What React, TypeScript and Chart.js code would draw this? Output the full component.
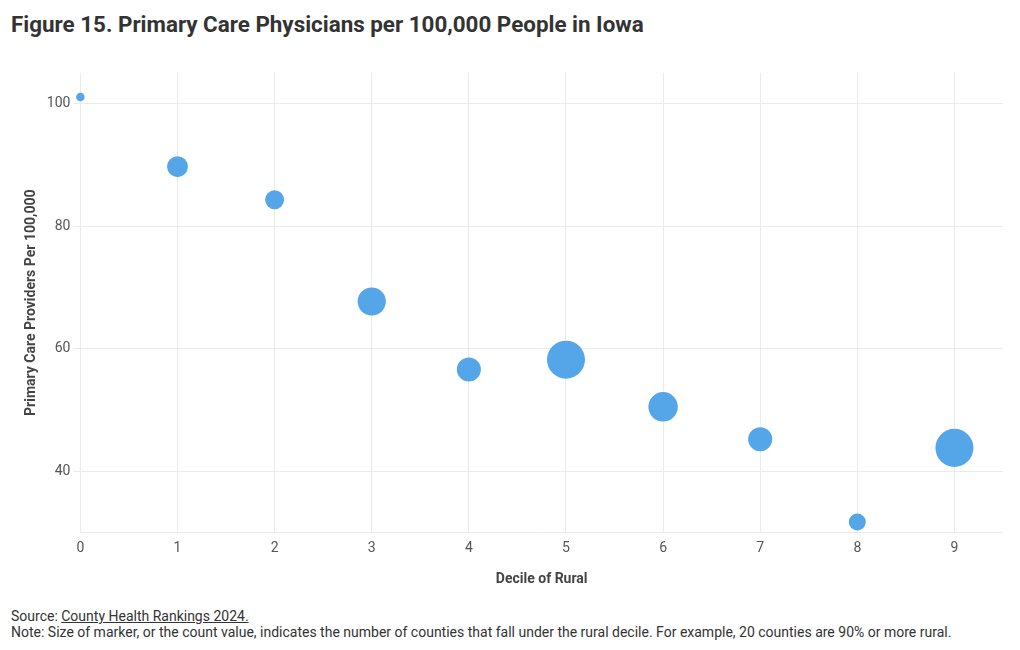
import React, { useEffect, useRef } from "react";
import { Chart, registerables } from "chart.js";

Chart.register(...registerables);

const deciles: number[] = [0, 1, 2, 3, 4, 5, 6, 7, 8, 9];
const providersPer100k: number[] = [101.1, 89.7, 84.3, 67.7, 56.6, 58.2, 50.5, 45.2, 31.7, 43.8];
const countyCounts: number[] = [1, 6, 5, 11, 8, 20, 12, 8, 4, 20];
const yTicks: number[] = [40, 60, 80, 100];
const xTicks: number[] = [0, 1, 2, 3, 4, 5, 6, 7, 8, 9];

const TITLE = "Figure 15. Primary Care Physicians per 100,000 People in Iowa";
const X_TITLE = "Decile of Rural";
const Y_TITLE = "Primary Care Providers Per 100,000";

const FONT = "Roboto, 'Noto Sans', sans-serif";
const BUBBLE = "#55A6E8";
const GRID = "#ebebeb";

export default function App() {
  const ref = useRef<HTMLCanvasElement | null>(null);

  useEffect(() => {
    if (!ref.current) return;
    const data = deciles.map((d, i) => ({
      x: d,
      y: providersPer100k[i],
      r: 4.25 * Math.sqrt(countyCounts[i]),
    }));
    const chart = new Chart(ref.current, {
      type: "bubble",
      data: {
        datasets: [
          {
            label: "Counties",
            data,
            backgroundColor: BUBBLE,
            borderColor: BUBBLE,
            borderWidth: 0,
            hoverRadius: 0,
            clip: false as any,
          },
        ],
      },
      options: {
        animation: false,
        responsive: true,
        maintainAspectRatio: false,
        layout: { padding: { left: 23, right: 10, top: 5, bottom: 0 } },
        plugins: {
          legend: { display: false },
          tooltip: { enabled: false },
          title: { display: false },
        },
        scales: {
          x: {
            type: "linear",
            min: 0,
            max: 9.5,
            afterBuildTicks: (scale: any) => {
              scale.ticks = xTicks.map((v) => ({ value: v }));
            },
            grid: { color: GRID, drawTicks: false, lineWidth: 1 },
            border: { display: true, color: GRID },
            ticks: {
              color: "#555",
              font: { family: FONT, size: 14 },
              padding: 8,
              maxRotation: 0,
            },
            title: {
              display: true,
              text: X_TITLE,
              color: "#444",
              font: { family: FONT, size: 14, weight: "bold" },
              padding: { top: 6, bottom: 0 },
            },
          },
          y: {
            type: "linear",
            min: 30,
            max: 105,
            afterBuildTicks: (scale: any) => {
              scale.ticks = yTicks.map((v) => ({ value: v }));
            },
            grid: { color: GRID, drawTicks: true, tickLength: 7, lineWidth: 1 },
            border: { display: false },
            ticks: {
              color: "#555",
              font: { family: FONT, size: 14 },
              padding: 3,
            },
            title: {
              display: true,
              text: Y_TITLE,
              color: "#444",
              font: { family: FONT, size: 14, weight: "bold" },
              padding: { top: 0, bottom: 4 },
            },
          },
        },
      },
    });
    return () => chart.destroy();
  }, []);

  return (
    <div
      style={{
        position: "absolute",
        left: 0,
        top: 0,
        width: 1020,
        height: 650,
        background: "#fff",
        fontFamily: FONT,
        overflow: "hidden",
      }}
    >
      <div
        style={{
          position: "absolute",
          left: 11,
          top: 11,
          fontSize: 22.4,
          fontWeight: 700,
          color: "#333",
          whiteSpace: "nowrap",
        }}
      >
        {TITLE}
      </div>
      <div style={{ position: "absolute", left: 0, top: 54, width: 1022, height: 534 }}>
        <canvas ref={ref} />
      </div>
      <div
        style={{
          position: "absolute",
          left: 11,
          top: 608,
          fontSize: 14,
          lineHeight: "16px",
          color: "#333",
          whiteSpace: "nowrap",
        }}
      >
        <div>
          Source: <span style={{ textDecoration: "underline" }}>County Health Rankings 2024.</span>
        </div>
        <div>
          Note: Size of marker, or the count value, indicates the number of counties that fall under the rural decile. For example, 20 counties are 90% or more rural.
        </div>
      </div>
    </div>
  );
}
